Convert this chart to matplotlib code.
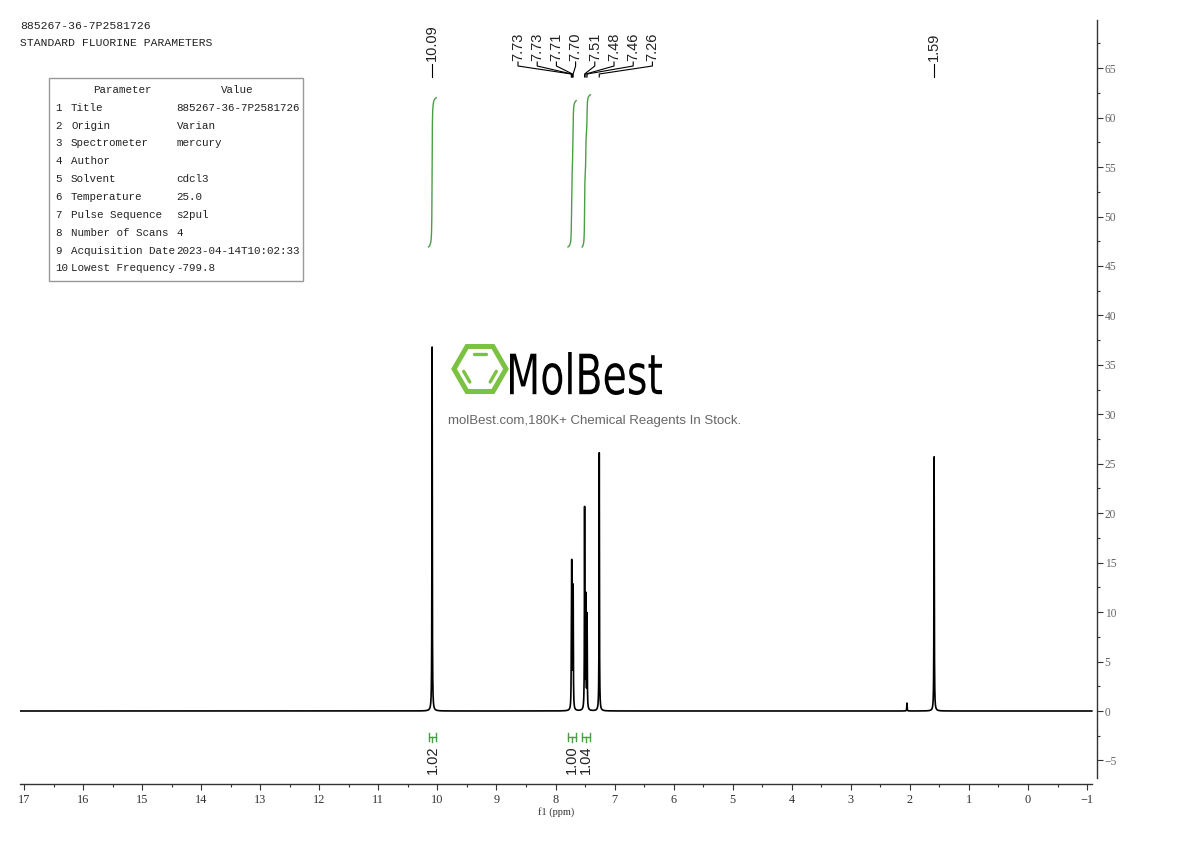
import numpy as np
import matplotlib
matplotlib.use('Agg')
import matplotlib.pyplot as plt
from matplotlib.ticker import MultipleLocator
from matplotlib.textpath import TextPath
from matplotlib.patches import PathPatch, Polygon, Rectangle
from matplotlib.font_manager import FontProperties
import matplotlib.transforms as mtransforms

# peaks of the 1H spectrum (ppm, height)
peak_ppm = [10.09, 7.733, 7.726, 7.712, 7.702, 7.508, 7.487, 7.466, 7.26, 2.05, 1.59]
peak_height = [36.8, 4.0, 14.0, 4.5, 12.0, 20.3, 11.2, 9.5, 26.1, 0.8, 25.7]

# picked peak labels
label_text = ["10.09", "7.73", "7.73", "7.71", "7.70", "7.51", "7.48", "7.46", "7.26", "1.59"]
label_ppm = [10.09, 7.733, 7.726, 7.712, 7.702, 7.508, 7.487, 7.466, 7.26, 1.59]

# integrals
int_lo = [10.02, 7.65, 7.41]
int_hi = [10.15, 7.79, 7.55]
int_values = [1.02, 1.00, 1.04]

x_ticks = list(range(-1, 18))
y_ticks = list(range(-5, 70, 5))

header_lines = ["885267-36-7P2581726", "STANDARD FLUORINE PARAMETERS"]
table_params = ["Title", "Origin", "Spectrometer", "Author", "Solvent", "Temperature",
                "Pulse Sequence", "Number of Scans", "Acquisition Date", "Lowest Frequency"]
table_values = ["885267-36-7P2581726", "Varian", "mercury", "", "cdcl3", "25.0",
                "s2pul", "4", "2023-04-14T10:02:33", "-799.8"]

W, H = 1190, 841


def fx(px):
    return px / W


def fy(py):
    return 1 - py / H


def px2ppm(px):
    return 17 - (px - 24) / 59.06


def py2y(py):
    return (711 - py) / 9.89


fig = plt.figure(figsize=(W / 100, H / 100), dpi=100)
ax = fig.add_axes([fx(20), fy(784), 1077 / W, 764 / H])

# spectrum
ppm = np.linspace(17.07, -1.08, 18151)
hw = 0.0035
spec = np.zeros_like(ppm)
for p, h in zip(peak_ppm, peak_height):
    spec += h / (1 + ((ppm - p) / hw) ** 2)
ax.plot(ppm, spec, color='black', lw=1.2)

# integral curves
green = '#4b9e45'
base = py2y(247)
for lo, hi, val in zip(int_lo, int_hi, int_values):
    m = (ppm <= hi) & (ppm >= lo)
    c = np.cumsum(spec[m])
    c = c / c[-1]
    ax.plot(ppm[m], base + c * 14.8 * val, color=green, lw=1)
    yb = py2y(737)
    ax.plot([hi, lo], [yb, yb], color=green, lw=1)
    ax.plot([hi, hi], [py2y(733), py2y(741)], color=green, lw=1)
    ax.plot([lo, lo], [py2y(733), py2y(741)], color=green, lw=1)
    mid = (lo + hi) / 2
    ax.plot([mid, mid], [yb, py2y(742)], color=green, lw=1)
    ax.text(mid, py2y(745), f"{val:.2f}", rotation=90, ha='center', va='top',
            fontsize=10.5, family='Liberation Sans', color='#222')

ax.set_xlim(px2ppm(20), px2ppm(1097))
ax.set_ylim(py2y(784), py2y(20))

# peak labels
lab_kw = dict(rotation=90, ha='center', va='bottom', fontsize=10.5,
              family='Liberation Sans', color='#222')
single = [0, 9]
for i in single:
    p = label_ppm[i]
    ax.text(p, py2y(61), label_text[i], **lab_kw)
    ax.plot([p, p], [py2y(64), py2y(77)], color='black', lw=0.8)

group = list(range(1, 9))
for k, i in enumerate(group):
    lx = px2ppm(518 + 19.2 * k)
    p = label_ppm[i]
    ax.text(lx, py2y(61), label_text[i], **lab_kw)
    ax.plot([lx, lx, p, p], [py2y(62), py2y(66), py2y(74), py2y(77)],
            color='black', lw=0.8)

# axes styling
for s in ['left', 'top']:
    ax.spines[s].set_visible(False)
ax.spines['right'].set_bounds(py2y(778), py2y(20))
ax.spines['bottom'].set_bounds(px2ppm(20), px2ppm(1092))
for s in ['right', 'bottom']:
    ax.spines[s].set_color('#333')
    ax.spines[s].set_linewidth(1)

ax.yaxis.tick_right()
ax.set_yticks(y_ticks)
ax.yaxis.set_minor_locator(MultipleLocator(2.5))
ax.set_xticks(x_ticks)
ax.xaxis.set_minor_locator(MultipleLocator(0.5))
ax.tick_params(axis='y', which='major', length=4, width=0.8, pad=1.5,
               labelsize=8.3, labelcolor='#666', color='#333')
ax.tick_params(axis='y', which='minor', length=2.5, width=0.8, color='#333')
ax.tick_params(axis='x', which='major', length=4, width=0.8, pad=3,
               labelsize=8.8, labelcolor='#333', color='#333')
ax.tick_params(axis='x', which='minor', length=2.5, width=0.8, color='#333')
for t in ax.get_xticklabels() + ax.get_yticklabels():
    t.set_family('Liberation Serif')

fig.text(fx(556), fy(812), 'f1 (ppm)', ha='center', va='center', fontsize=7.5,
         family='Liberation Serif', color='#333')

# header text and parameter table
mono = 'Liberation Mono'
fig.text(fx(20), fy(26), header_lines[0], ha='left', va='center', fontsize=8.2,
         family=mono, color='#222')
fig.text(fx(20), fy(43), header_lines[1], ha='left', va='center', fontsize=8.2,
         family=mono, color='#222')
fig.patches.append(Rectangle((fx(49), fy(281)), fx(303) - fx(49), fy(78) - fy(281),
                             transform=fig.transFigure, fill=False,
                             edgecolor='#999', lw=1))
fig.text(fx(122), fy(90), 'Parameter', ha='center', va='center', fontsize=7.8,
         family=mono, color='#222')
fig.text(fx(237), fy(90), 'Value', ha='center', va='center', fontsize=7.8,
         family=mono, color='#222')
for r, (pn, pv) in enumerate(zip(table_params, table_values)):
    yy = fy(107.7 + 17.85 * r)
    fig.text(fx(55), yy, str(r + 1), ha='left', va='center', fontsize=7.8,
             family=mono, color='#222')
    fig.text(fx(71), yy, pn, ha='left', va='center', fontsize=7.8,
             family=mono, color='#222')
    fig.text(fx(176.5), yy, pv, ha='left', va='center', fontsize=7.8,
             family=mono, color='#222')

# watermark logo
lg = '#7cc242'
cx, cy, R = 480, 369, 26
ang = np.radians(np.arange(0, 360, 60))
hx = cx + R * np.cos(ang)
hy = cy - R * np.sin(ang)
fig.patches.append(Polygon(list(zip(fx(hx), fy(hy))), closed=True, fill=False,
                           edgecolor=lg, lw=3.6, transform=fig.transFigure,
                           joinstyle='miter'))
Ri = R * 0.68
ix = cx + Ri * np.cos(ang)
iy = cy - Ri * np.sin(ang)
for a, b in [(1, 2), (3, 4), (5, 0)]:
    x0 = ix[a] + 0.15 * (ix[b] - ix[a])
    x1 = ix[a] + 0.85 * (ix[b] - ix[a])
    y0 = iy[a] + 0.15 * (iy[b] - iy[a])
    y1 = iy[a] + 0.85 * (iy[b] - iy[a])
    fig.lines.append(plt.Line2D([fx(x0), fx(x1)], [fy(y0), fy(y1)], color=lg,
                                lw=2.4, solid_capstyle='round',
                                transform=fig.transFigure))

tp = TextPath((0, 0), "MolBest", size=10, prop=FontProperties(family='DejaVu Sans'))
ext = tp.get_extents()
tr = (mtransforms.Affine2D().translate(-ext.x0, -ext.y0)
      .scale(152 / ext.width, 43 / ext.height)
      .translate(510, H - 395).scale(1 / W, 1 / H) + fig.transFigure)
fig.patches.append(PathPatch(tp, facecolor='black', edgecolor='none', transform=tr))
fig.text(fx(448), fy(421), 'molBest.com,180K+ Chemical Reagents In Stock.', ha='left',
         va='center', fontsize=9.5, family='Liberation Sans', color='#666')

fig.savefig('out.png', dpi=100)
